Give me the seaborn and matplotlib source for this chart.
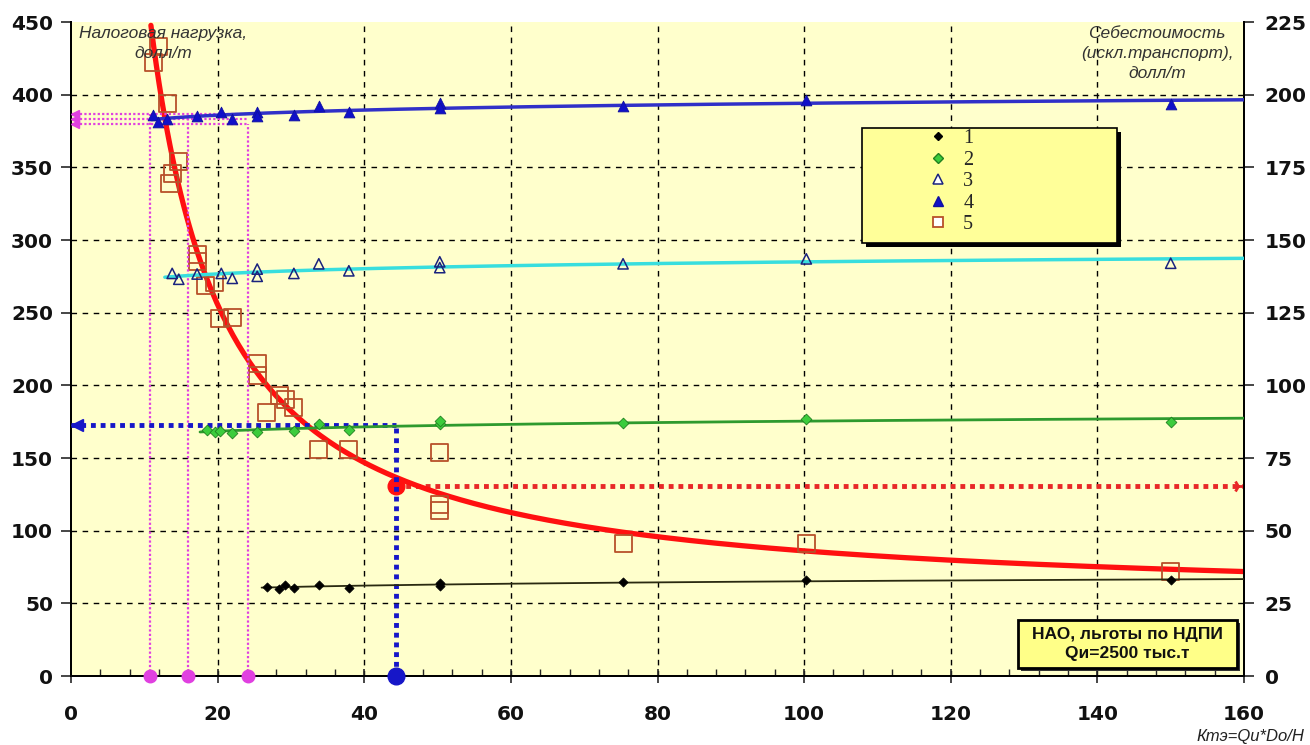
import numpy as np
import pandas as pd
import matplotlib
matplotlib.use("Agg")
import matplotlib.pyplot as plt
import seaborn as sns
from matplotlib.lines import Line2D
from matplotlib.patches import Rectangle
from matplotlib.ticker import MultipleLocator

# ---------------- data ----------------
# series 1-4: cost (right axis, $/t); series 5: tax burden (left axis, $/t)
s1_x = [26.7, 28.4, 29.2, 30.4, 33.8, 37.9, 50.3, 50.3, 75.3, 100.3, 150.0]
s1_y = [30.6, 30.0, 31.3, 30.3, 31.3, 30.3, 32.0, 31.0, 32.4, 32.9, 32.9]

s2_x = [18.6, 19.6, 20.3, 22.0, 25.4, 30.4, 33.8, 37.9, 50.3, 50.3, 75.3, 100.3, 150.0]
s2_y = [84.7, 84.0, 84.3, 83.6, 84.0, 84.3, 86.7, 84.7, 86.7, 87.8, 86.9, 88.4, 87.4]

s3_x = [13.8, 14.7, 17.2, 20.5, 22.0, 25.4, 25.4, 30.4, 33.8, 37.9, 50.3, 50.3, 75.3, 100.3, 150.0]
s3_y = [138.5, 136.5, 138.3, 138.5, 136.8, 140.0, 137.5, 138.5, 141.8, 139.4, 142.5, 140.5, 141.8, 143.5, 142.0]

s4_x = [11.2, 11.9, 13.1, 17.2, 20.5, 22.0, 25.4, 25.4, 30.4, 33.8, 37.9, 50.3, 50.3, 75.3, 100.3, 150.0]
s4_y = [193.0, 190.5, 191.5, 192.5, 194.0, 191.5, 194.0, 192.5, 193.0, 196.0, 194.0, 197.0, 195.5, 196.0, 198.0, 196.8]

s5_x = [11.2, 11.9, 13.1, 13.5, 13.9, 14.6, 17.2, 17.2, 18.4, 19.6, 20.3, 22.0, 25.4, 25.4,
        26.7, 28.4, 29.2, 30.4, 33.7, 37.8, 50.3, 50.3, 50.3, 75.3, 100.3, 150.0]
s5_y = [422, 433, 394, 339, 346, 354, 290, 285, 269, 271, 246, 247, 215, 207,
        181, 193, 190, 185, 156, 156, 154, 118, 114, 91, 91, 72]

series_labels = ["1", "2", "3", "4", "5"]
trend_start = [26.0, 17.6, 12.8, 11.0]   # where cost trendlines 1-4 begin
tax_trend_start = 10.9
trend_end = 160.0

# guide lines
mark_x = 44.3          # chosen Kтэ
mark_tax = 131         # tax burden at mark (left axis)
mark_cost = 86.5       # cost at mark (right axis)
magenta_x = [10.8, 16.0, 24.1]
magenta_cost = [193.5, 191.75, 190.0]   # right axis

x_ticks = list(range(0, 161, 20))
yl_ticks = list(range(0, 451, 50))
yr_ticks = list(range(0, 226, 25))

left_title = "Налоговая нагрузка,\nдолл/т"
right_title = "Себестоимость\n(искл.транспорт),\nдолл/т"
box_text = "НАО, льготы по НДПИ\nQи=2500 тыс.т"
x_label = "Ктэ=Qи*Do/H"

# ---------------- styling ----------------
sns.set_theme(style="white")
plt.rcParams['font.family'] = ['Liberation Sans', 'DejaVu Sans']

fig = plt.figure(figsize=(13.1, 7.45), dpi=100)
fig.patch.set_facecolor('white')
ax = fig.add_axes([71/1310, 69/745, 1173/1310, 654/745])
ax.set_facecolor('#ffffcc')
ax2 = ax.twinx()

ax.set_xlim(0, 160)
ax.set_ylim(0, 450)
ax2.set_ylim(0, 225)

# grid (inner lines only)
for v in x_ticks[1:-1]:
    ax.axvline(v, color='black', lw=1.0, ls=(0, (4, 4)), zorder=0.5)
for v in yl_ticks[1:-1]:
    ax.axhline(v, color='black', lw=1.0, ls=(0, (4, 4)), zorder=0.5)

# ---------------- guide lines ----------------
pink = '#e040e0'
for xv, cv in zip(magenta_x, magenta_cost):
    ax2.plot([xv, xv], [0, cv], color=pink, lw=1.6, ls=(0, (1, 1)), zorder=2)
for cv in magenta_cost:
    ax2.plot([0, max(magenta_x)], [cv, cv], color=pink, lw=1.6, ls=(0, (1, 1)), zorder=2)
    ax2.plot([0.6], [cv], marker='<', color=pink, ms=6, clip_on=False, zorder=6)
ax2.plot(magenta_x, [0] * len(magenta_x), 'o', color=pink, ms=9, clip_on=False, zorder=6)

blue_d = '#1616c8'
ax2.plot([mark_x, mark_x], [0, mark_cost], color=blue_d, lw=3.5, ls=(0, (1, 1)), zorder=3)
ax2.plot([0, mark_x], [mark_cost, mark_cost], color=blue_d, lw=3.5, ls=(0, (1, 1)), zorder=3)
ax2.plot([0.8], [mark_cost], marker='<', color=blue_d, ms=8, clip_on=False, zorder=6)
ax2.plot([mark_x], [0], 'o', color=blue_d, ms=12, clip_on=False, zorder=7)

red_d = '#e82828'
ax.plot([mark_x, 160], [mark_tax, mark_tax], color=red_d, lw=3.5, ls=(0, (1, 1)), zorder=3)
ax.plot([159.2], [mark_tax], marker='4', color=red_d, ms=9, mew=2, clip_on=False, zorder=6)

# ---------------- trendlines ----------------
series = [
    (s1_x, s1_y, '#2a2a10', 1.3),
    (s2_x, s2_y, '#2e9a2e', 2.0),
    (s3_x, s3_y, '#38dede', 2.5),
    (s4_x, s4_y, '#3030c8', 2.5),
]
for (sx, sy, col, lw), x0 in zip(series, trend_start):
    k, b = np.polyfit(np.log(sx), sy, 1)
    xx = np.linspace(x0, trend_end, 200)
    tdf = pd.DataFrame({"x": xx, "y": b + k * np.log(xx)})
    sns.lineplot(data=tdf, x="x", y="y", ax=ax2, color=col, lw=lw, zorder=4)

# tax trend: y = a + b*x^c fitted to series 5
x5 = np.array(s5_x, float)
y5 = np.array(s5_y, float)
best = None
for c in np.linspace(-3.0, -0.1, 291):
    A = np.column_stack([np.ones_like(x5), x5 ** c])
    coef = np.linalg.lstsq(A, y5, rcond=None)[0]
    err = np.sum((A @ coef - y5) ** 2)
    if best is None or err < best[0]:
        best = (err, c, coef)
_, cbest, (a5, b5) = best
xx = np.linspace(tax_trend_start, trend_end, 400)
tdf5 = pd.DataFrame({"x": xx, "y": a5 + b5 * xx ** cbest})
sns.lineplot(data=tdf5, x="x", y="y", ax=ax, color='#ff1010', lw=3.8, zorder=5)

ax.plot([mark_x], [mark_tax], 'o', color='#ff1010', ms=12, zorder=7)

# ---------------- markers ----------------
df1 = pd.DataFrame({"x": s1_x, "y": s1_y})
df2 = pd.DataFrame({"x": s2_x, "y": s2_y})
df3 = pd.DataFrame({"x": s3_x, "y": s3_y})
df4 = pd.DataFrame({"x": s4_x, "y": s4_y})
df5 = pd.DataFrame({"x": s5_x, "y": s5_y})

sns.scatterplot(data=df1, x="x", y="y", ax=ax2, marker='D', s=22, color='black',
                edgecolor='black', linewidth=0.5, zorder=8, legend=False)
sns.scatterplot(data=df2, x="x", y="y", ax=ax2, marker='D', s=30, color='#3ccc3c',
                edgecolor='#208020', linewidth=0.6, zorder=8, legend=False)
sns.scatterplot(data=df3, x="x", y="y", ax=ax2, marker='^', s=55, color='white',
                edgecolor='#1a237e', linewidth=1.1, zorder=8, legend=False)
ax2.collections[-1].set_facecolor('none')
sns.scatterplot(data=df4, x="x", y="y", ax=ax2, marker='^', s=60, color='#1010c8',
                edgecolor='#1010a0', linewidth=0.6, zorder=8, legend=False)
sns.scatterplot(data=df5, x="x", y="y", ax=ax, marker='s', s=150, color='white',
                edgecolor='#b8502a', linewidth=1.3, zorder=6, legend=False)
ax.collections[-1].set_facecolor('none')

ax.set_xlabel("")
ax.set_ylabel("")
ax2.set_ylabel("")

# ---------------- axes & ticks ----------------
ax.set_xticks(x_ticks)
ax.xaxis.set_minor_locator(MultipleLocator(4))
ax.set_yticks(yl_ticks)
ax2.set_yticks(yr_ticks)
tick_font = dict(fontsize=14.5, fontweight='bold', color='#111111', family=['DejaVu Sans'])
ax.set_xticklabels([str(v) for v in x_ticks], **tick_font)
ax.set_yticklabels([str(v) for v in yl_ticks], **tick_font)
ax2.set_yticklabels([str(v) for v in yr_ticks], **tick_font)
ax.tick_params(axis='x', which='major', direction='inout', length=10, width=1.2, pad=16, bottom=True)
ax.tick_params(axis='x', which='minor', direction='in', length=5, width=1.0, bottom=True)
ax.tick_params(axis='y', which='major', direction='out', length=7, width=1.2, pad=6, left=True)
ax2.tick_params(axis='y', which='major', direction='out', length=7, width=1.2, pad=8, right=True)

for a in (ax, ax2):
    for side in ('left', 'right', 'bottom'):
        a.spines[side].set_color('black')
        a.spines[side].set_linewidth(1.4)
    a.spines['top'].set_visible(False)

# ---------------- texts ----------------
ax.text((163 - 71) / 1173, 0.994, left_title, transform=ax.transAxes, ha='center', va='top',
        fontsize=12.5, style='italic', color='#333333', linespacing=1.4, zorder=9)
ax2.text((1157 - 71) / 1173, 0.994, right_title, transform=ax2.transAxes, ha='center', va='top',
         fontsize=12.5, style='italic', color='#333333', linespacing=1.4, zorder=9)
fig.text(1250 / 1310, 1 - 737 / 745, x_label, ha='center', va='center',
         fontsize=12, style='italic', color='#222222')

# legend box
lx0, ly0 = (862 - 71) / 1173, (676 - 243) / 654
lw_, lh_ = 255 / 1173, 115 / 654
ax2.add_patch(Rectangle((lx0 + 4 / 1173, ly0 - 4 / 654), lw_, lh_, transform=ax2.transAxes,
                        facecolor='black', edgecolor='none', zorder=10))
ax2.add_patch(Rectangle((lx0, ly0), lw_, lh_, transform=ax2.transAxes,
                        facecolor='#ffff99', edgecolor='black', lw=1.2, zorder=11))
handles = [
    Line2D([], [], ls='none', marker='D', ms=4, color='black', mec='black'),
    Line2D([], [], ls='none', marker='D', ms=5, color='#3ccc3c', mec='#208020'),
    Line2D([], [], ls='none', marker='^', ms=6.5, mfc='white', mec='#1a237e', mew=1.1),
    Line2D([], [], ls='none', marker='^', ms=7, color='#1010c8', mec='#1010a0'),
    Line2D([], [], ls='none', marker='s', ms=6.5, mfc='white', mec='#b8502a', mew=1.3),
]
leg = ax2.legend(handles, series_labels, loc='upper left',
                 bbox_to_anchor=((929 - 71) / 1173, (676 - 129) / 654),
                 frameon=False, borderpad=0, borderaxespad=0, handlelength=0.9,
                 handletextpad=0.8, labelspacing=0.12,
                 prop={'family': ['Liberation Serif', 'DejaVu Serif'], 'size': 14.5})
leg.set_zorder(12)

# info box
bx0, by0 = (1018 - 71) / 1173, (676 - 668) / 654
bw, bh = 219 / 1173, 48 / 654
ax2.add_patch(Rectangle((bx0 + 3 / 1173, by0 - 3 / 654), bw, bh, transform=ax2.transAxes,
                        facecolor='#333333', edgecolor='none', zorder=10, clip_on=False))
ax2.add_patch(Rectangle((bx0, by0), bw, bh, transform=ax2.transAxes,
                        facecolor='#ffff88', edgecolor='black', lw=2.0, zorder=11, clip_on=False))
ax2.text(bx0 + bw / 2, by0 + bh / 2, box_text, transform=ax2.transAxes, ha='center', va='center',
         fontsize=12.5, fontweight='bold', color='#111111', linespacing=1.3, zorder=12)

fig.savefig("out.png", dpi=100, facecolor='white')
